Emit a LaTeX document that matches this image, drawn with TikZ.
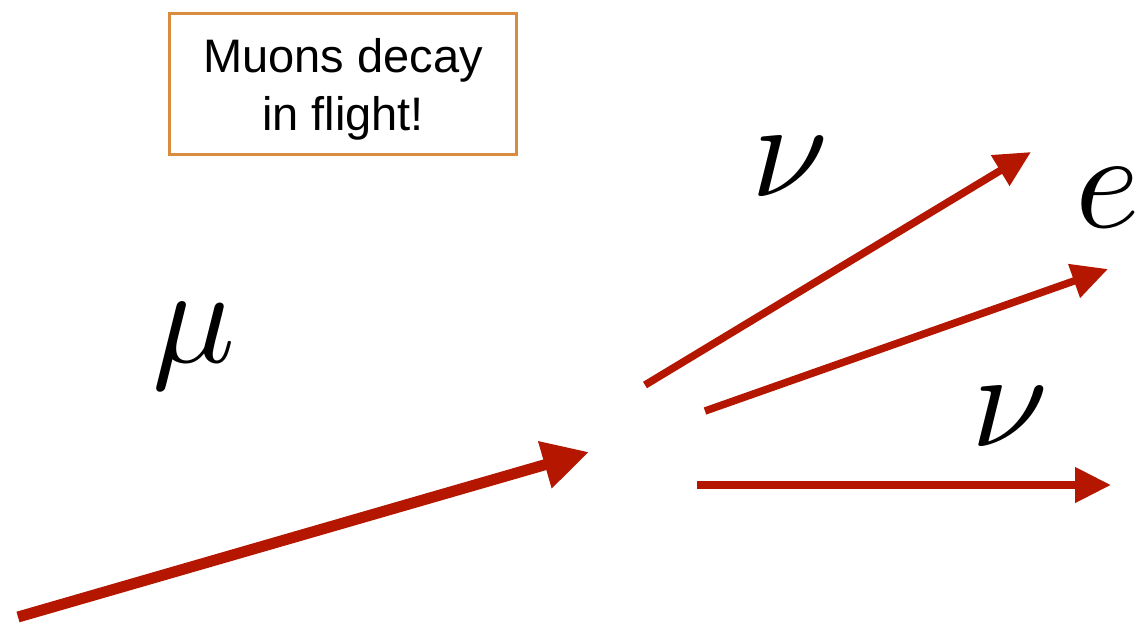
\documentclass[tikz,border=0pt]{standalone}
\usepackage{fontspec}
\usepackage{unicode-math}
\setmainfont{Liberation Sans}
\setmathfont{Latin Modern Math}
\usetikzlibrary{arrows.meta}
\definecolor{arrred}{RGB}{180,22,0}
\definecolor{boxorange}{RGB}{217,140,64}
\begin{document}
\begin{tikzpicture}[x=1pt,y=-1pt,
  bigarrow/.style={draw=arrred, line width=11pt, -{Triangle[length=46pt,width=46pt]}},
  decayarrow/.style={draw=arrred, line width=7.5pt, -{Triangle[length=36pt,width=34pt]}},
  particle/.style={font=\fontsize{138}{138}\selectfont, inner sep=0pt, anchor=base},
  notebox/.style={draw=boxorange, line width=3pt, minimum width=347pt, minimum height=141pt, inner sep=0pt},
  notetext/.style={align=center, inner sep=0pt, font=\fontsize{47}{58}\selectfont}]
\useasboundingbox (0,0) rectangle (1143,625);
\fill[white] (0,0) rectangle (1143,625);

\node[notebox] (box) at (343,84) {};
\node[notetext] (boxtext) at (343,89) {Muons decay\\in flight!};

\coordinate (mus) at (18,617);
\coordinate (mut) at (589,452);
\coordinate (n1s) at (645,385);
\coordinate (n1t) at (1031,152);
\coordinate (es) at (705,411);
\coordinate (et) at (1108,269);
\coordinate (n2s) at (697,485);
\coordinate (n2t) at (1111,485);

\draw[bigarrow] (mus) -- (mut);
\draw[decayarrow] (n1s) -- (n1t);
\draw[decayarrow] (es) -- (et);
\draw[decayarrow] (n2s) -- (n2t);

\node[particle] (mu) at (194,362) {$\mu$};
\node[particle] (nu1) at (790,196) {$\nu$};
\node[particle] (e) at (1108,227) {$e$};
\node[particle] (nu2) at (1010,446) {$\nu$};
\end{tikzpicture}
\end{document}
